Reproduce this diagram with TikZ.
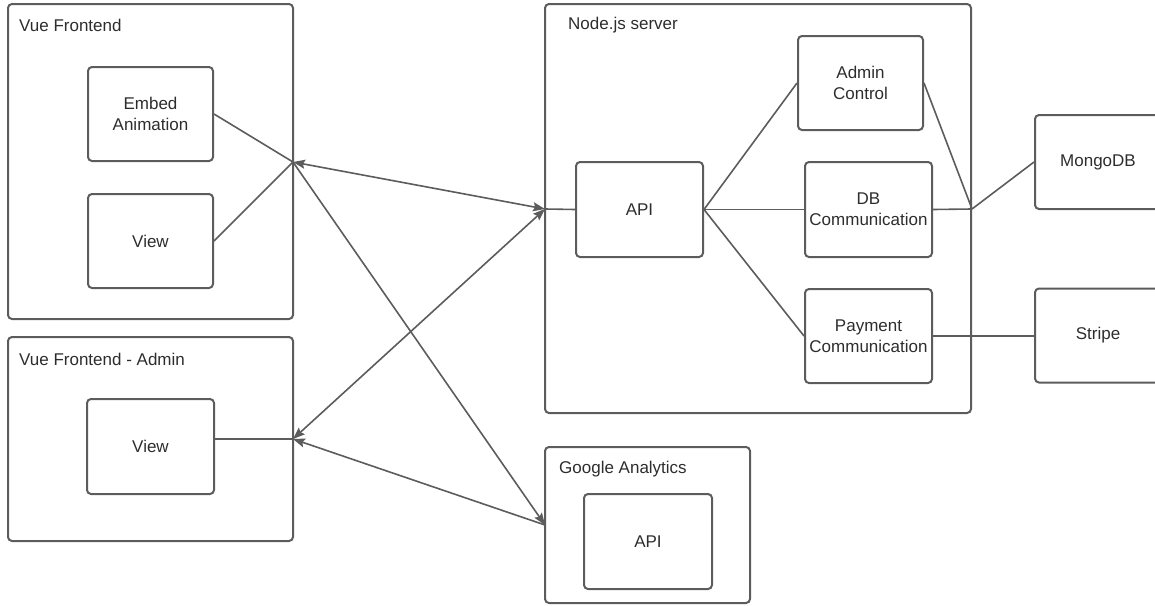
\documentclass[tikz,border=0pt]{standalone}
\usepackage{fontspec}
\setmainfont{Liberation Sans}
\usetikzlibrary{arrows.meta,calc}
\definecolor{ln}{RGB}{92,92,92}
\definecolor{tx}{RGB}{45,45,45}
\tikzset{
  box/.style={draw=ln, line width=2pt, rounded corners=4pt, inner sep=0pt, align=center,
    text=tx, font=\fontsize{17}{21}\selectfont},
  title/.style={anchor=west, inner sep=0pt, text=tx, font=\fontsize{17}{21}\selectfont},
  conn/.style={draw=ln, line width=1.6pt},
  tip/.tip={Stealth[length=12pt,width=9pt,inset=2pt]},
}
\begin{document}
\begin{tikzpicture}[x=1pt,y=-1pt]
\useasboundingbox (0,0) rectangle (1155,605);
\clip (0,0) rectangle (1155,605);
% outer boxes
\node[box, minimum width=285pt, minimum height=315pt] (vf) at (150.5,161.5) {};
\node[title] (vft) at (19,25) {Vue Frontend};
\node[box, minimum width=285pt, minimum height=204pt] (vfa) at (150.5,439) {};
\node[title] (vfat) at (19,359) {Vue Frontend - Admin};
\node[box, minimum width=426pt, minimum height=409pt] (ns) at (758,208.5) {};
\node[title] (nst) at (568,25) {Node.js server};
\node[box, minimum width=205pt, minimum height=156pt] (ga) at (647.5,525) {};
\node[title] (gat) at (559,469) {Google Analytics};
% inner boxes
\node[box, minimum width=125pt, minimum height=94pt] (embed) at (150.5,114) {Embed\\Animation};
\node[box, minimum width=125pt, minimum height=94pt] (view1) at (150.5,241) {View};
\node[box, minimum width=127pt, minimum height=95pt] (view2) at (150.5,446.5) {View};
\node[box, minimum width=125pt, minimum height=94pt] (admin) at (860.5,83) {Admin\\Control};
\node[box, minimum width=127pt, minimum height=95pt] (api) at (639.5,209.5) {API};
\node[box, minimum width=127pt, minimum height=95pt] (db) at (868.5,209.5) {DB\\Communication};
\node[box, minimum width=127pt, minimum height=94pt] (pay) at (868.5,336) {Payment\\Communication};
\node[box, minimum width=126pt, minimum height=94pt] (mongo) at (1098,162) {MongoDB};
\node[box, minimum width=126pt, minimum height=94pt] (stripe) at (1098,335.5) {Stripe};
\node[box, minimum width=128pt, minimum height=95pt] (gaapi) at (648,541.5) {API};
% junctions
\coordinate (j1) at (293,162);
\coordinate (j2) at (293,439);
\coordinate (j3) at (972,209);
\coordinate (nsin) at (545,209);
\coordinate (gain) at (545,525);
% connectors
\draw[conn] (embed.east) -- (j1);
\draw[conn] (view1.east) -- (j1);
\draw[conn] (view2.east |- j2) -- (j2);
\draw[conn, tip-tip] (j1) -- (nsin);
\draw[conn, -tip] (j1) -- (gain);
\draw[conn, tip-tip] (j2) -- (nsin);
\draw[conn, tip-] (j2) -- (gain);
\draw[conn] (nsin) -- (api.west);
\draw[conn] (api.east) -- (admin.west);
\draw[conn] (api.east) -- (db.west);
\draw[conn] (api.east) -- (pay.west);
\draw[conn] (admin.east) -- (j3);
\draw[conn] (db.east) -- (j3);
\draw[conn] (j3) -- (mongo.west);
\draw[conn] (pay.east) -- (pay.east -| stripe.west);
\end{tikzpicture}
\end{document}
